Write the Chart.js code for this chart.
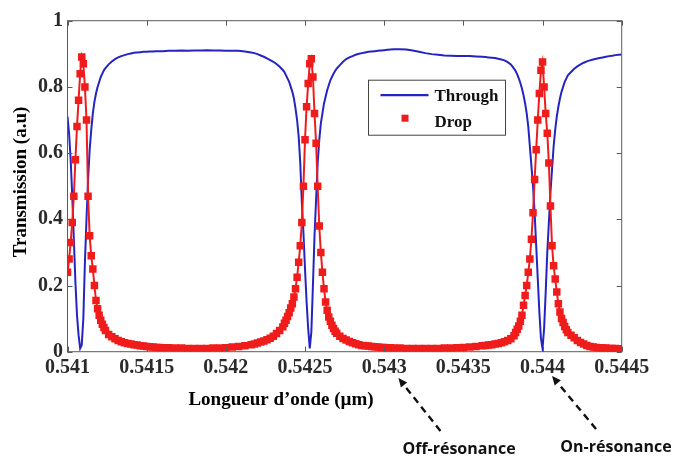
<!DOCTYPE html>
<html>
<head>
<meta charset="utf-8">
<script src="https://cdn.jsdelivr.net/npm/chart.js@4.4.1/dist/chart.umd.min.js"></script>
<style>
html,body{margin:0;padding:0;background:#fff;}
canvas{display:block;}
</style>
</head>
<body>
<canvas id="c" width="675" height="457"></canvas>
<script>
// ---------------- DATA ----------------
const wavelength = [
0.54100,0.54101,0.54102,0.54103,0.54104,0.54105,0.54106,0.54107,0.54108,0.54109,
0.54110,0.54111,0.54112,0.54113,0.54114,0.54115,0.54116,0.54117,0.54118,0.54119,
0.54120,0.54121,0.54122,0.54123,0.54124,
0.54126,0.54128,0.54130,0.54132,0.54134,0.54136,0.54138,0.54140,0.54142,0.54144,
0.54146,0.54148,0.54150,0.54152,0.54154,0.54156,0.54158,0.54160,
0.54164,0.54168,0.54172,0.54176,0.54180,0.54184,0.54188,0.54192,0.54196,0.54200,
0.54204,0.54208,0.54212,0.54216,
0.54218,0.54220,0.54222,0.54224,0.54226,0.54228,0.54230,0.54232,0.54234,0.54236,
0.54237,0.54238,0.54239,0.54240,0.54241,0.54242,0.54243,0.54244,0.54245,0.54246,
0.54247,0.54248,0.54249,0.54250,0.54251,0.54252,0.54253,0.54254,0.54255,0.54256,
0.54257,0.54258,0.54259,0.54260,0.54261,0.54262,0.54263,0.54264,0.54265,0.54266,
0.54267,0.54268,0.54269,0.54270,
0.54272,0.54274,0.54276,0.54278,0.54280,0.54282,0.54284,0.54286,0.54288,0.54290,
0.54292,0.54294,0.54296,0.54298,0.54300,0.54302,0.54304,0.54306,
0.54310,0.54314,0.54318,0.54322,0.54326,0.54330,0.54334,0.54338,0.54342,0.54346,
0.54350,0.54354,0.54358,0.54362,
0.54364,0.54366,0.54368,0.54370,0.54372,0.54374,0.54376,0.54378,0.54380,0.54382,
0.54383,0.54384,0.54385,0.54386,0.54387,0.54388,0.54389,0.54390,0.54391,0.54392,
0.54393,0.54394,0.54395,0.54396,0.54397,0.54398,0.54399,0.54400,0.54401,0.54402,
0.54403,0.54404,0.54405,0.54406,0.54407,0.54408,0.54409,0.54410,0.54411,0.54412,
0.54413,0.54414,0.54415,0.54416,
0.54418,0.54420,0.54422,0.54424,0.54426,0.54428,0.54430,0.54432,0.54434,0.54436,
0.54438,0.54440,0.54442,0.54444,0.54446,0.54448,0.54450
];

const through = [
0.71,0.66,0.58,0.47,0.34,0.21,0.11,0.05,0.01,0.02,
0.10,0.27,0.40,0.52,0.61,0.67,0.72,0.755,0.78,0.80,
0.815,0.83,0.84,0.85,0.857,
0.868,0.877,0.884,0.889,0.893,0.896,0.899,0.901,0.903,0.904,
0.905,0.906,0.906,0.907,0.907,0.908,0.908,0.908,
0.909,0.909,0.910,0.909,0.910,0.910,0.911,0.910,0.910,0.909,
0.909,0.909,0.907,0.904,
0.902,0.899,0.895,0.891,0.886,0.881,0.876,0.869,0.861,0.851,
0.845,0.835,0.825,0.815,0.80,0.785,0.765,0.735,0.70,0.65,
0.57,0.45,0.36,0.25,0.15,0.07,0.01,0.06,0.20,0.35,
0.46,0.57,0.64,0.69,0.72,0.75,0.77,0.79,0.805,0.82,
0.83,0.84,0.848,0.855,
0.866,0.876,0.884,0.889,0.893,0.897,0.900,0.902,0.904,0.906,
0.907,0.908,0.909,0.910,0.911,0.912,0.913,0.914,
0.914,0.913,0.910,0.906,0.902,0.899,0.897,0.895,0.894,0.893,
0.893,0.893,0.892,0.891,
0.890,0.889,0.888,0.887,0.885,0.883,0.880,0.875,0.868,0.855,
0.848,0.838,0.826,0.812,0.795,0.775,0.75,0.72,0.68,0.62,
0.56,0.50,0.42,0.32,0.22,0.12,0.04,0.01,0.07,0.18,
0.30,0.39,0.48,0.55,0.62,0.67,0.71,0.74,0.765,0.785,
0.80,0.815,0.825,0.835,
0.845,0.855,0.862,0.868,0.873,0.877,0.880,0.883,0.885,0.887,
0.889,0.891,0.893,0.894,0.896,0.897,0.898
];

const drop = [
0.24,0.28,0.33,0.39,0.47,0.58,0.68,0.76,0.84,0.89,
0.87,0.80,0.70,0.47,0.35,0.29,0.25,0.20,0.155,0.13,
0.11,0.095,0.083,0.073,0.064,
0.052,0.045,0.039,0.034,0.030,0.027,0.025,0.023,0.021,0.020,
0.018,0.017,0.016,0.015,0.014,0.013,0.013,0.012,
0.012,0.011,0.011,0.010,0.010,0.010,0.010,0.011,0.011,0.012,
0.014,0.016,0.018,0.021,
0.023,0.026,0.029,0.032,0.036,0.041,0.047,0.055,0.064,0.075,
0.086,0.095,0.106,0.118,0.132,0.145,0.165,0.19,0.225,0.27,
0.32,0.39,0.50,0.64,0.74,0.81,0.87,0.885,0.83,0.72,
0.63,0.50,0.38,0.30,0.24,0.19,0.15,0.125,0.105,0.092,
0.080,0.070,0.062,0.056,
0.047,0.040,0.035,0.031,0.027,0.024,0.021,0.019,0.018,0.017,
0.016,0.015,0.014,0.013,0.013,0.012,0.012,0.011,
0.011,0.010,0.010,0.010,0.010,0.010,0.010,0.011,0.011,0.012,
0.013,0.014,0.016,0.018,
0.019,0.020,0.021,0.023,0.025,0.027,0.030,0.034,0.039,0.048,
0.058,0.068,0.078,0.092,0.11,0.14,0.17,0.20,0.24,0.28,
0.34,0.42,0.52,0.61,0.70,0.78,0.85,0.875,0.80,0.72,
0.66,0.57,0.44,0.32,0.26,0.22,0.18,0.145,0.12,0.10,
0.088,0.076,0.066,0.058,
0.050,0.042,0.034,0.028,0.023,0.019,0.016,0.014,0.013,0.012,
0.011,0.011,0.010,0.010,0.010,0.009,0.009
];

const xTickLabels = ['0.541','0.5415','0.542','0.5425','0.543','0.5435','0.544','0.5445'];
const yTickLabels = ['0','0.2','0.4','0.6','0.8','1'];
const seriesNames = ['Through','Drop'];
const xTitle = 'Longueur d\u2019onde (\u00b5m)';
const yTitle = 'Transmission (a.u)';
const offResonanceLabel = 'Off-r\u00e9sonance';
const onResonanceLabel = 'On-r\u00e9sonance';
const offResonanceX = 0.54309;
const onResonanceX = 0.54406;

// ---------------- STYLE ----------------
const BLUE = '#2424c2';
const RED = '#f01c1c';
const SERIF = '"Liberation Serif", "Times New Roman", serif';

const throughPts = wavelength.map((x, i) => ({x: x, y: through[i]}));
const dropPts = wavelength.map((x, i) => ({x: x, y: drop[i]}));

const decor = {
  id: 'decor',
  afterDatasetsDraw(chart) {
    const ctx = chart.ctx;
    const a = chart.chartArea;
    const xs = chart.scales.x, ys = chart.scales.y;
    ctx.save();
    // frame
    ctx.strokeStyle = '#5a5a5a';
    ctx.lineWidth = 1;
    ctx.strokeRect(a.left, a.top, a.right - a.left, a.bottom - a.top);
    // inward ticks
    ctx.beginPath();
    xs.ticks.forEach(t => {
      const px = Math.round(xs.getPixelForValue(t.value)) + 0.5;
      ctx.moveTo(px, a.top); ctx.lineTo(px, a.top + 5);
      ctx.moveTo(px, a.bottom); ctx.lineTo(px, a.bottom - 5);
    });
    ys.ticks.forEach(t => {
      const py = Math.round(ys.getPixelForValue(t.value)) + 0.5;
      ctx.moveTo(a.left, py); ctx.lineTo(a.left + 5, py);
      ctx.moveTo(a.right, py); ctx.lineTo(a.right - 5, py);
    });
    ctx.stroke();

    // legend
    const lx = a.left + 301, ly = a.top + 59.5;
    ctx.fillStyle = '#fff';
    ctx.fillRect(lx, ly, 137, 55);
    ctx.strokeStyle = '#444';
    ctx.strokeRect(lx, ly, 137, 55);
    ctx.strokeStyle = BLUE;
    ctx.lineWidth = 2.2;
    ctx.beginPath();
    ctx.moveTo(lx + 12, ly + 15); ctx.lineTo(lx + 60, ly + 15);
    ctx.stroke();
    ctx.fillStyle = RED;
    ctx.fillRect(lx + 33, ly + 34.5, 7, 7);
    ctx.fillStyle = '#111';
    ctx.font = 'bold 17px ' + SERIF;
    ctx.textAlign = 'left';
    ctx.textBaseline = 'middle';
    ctx.fillText(seriesNames[0], lx + 66, ly + 16);
    ctx.fillText(seriesNames[1], lx + 66, ly + 42);

    // axis titles
    ctx.fillStyle = '#000';
    ctx.font = 'bold 19px ' + SERIF;
    ctx.textAlign = 'center';
    ctx.textBaseline = 'middle';
    ctx.fillText(xTitle, 281, 400);
    ctx.save();
    ctx.translate(21, 182);
    ctx.rotate(-Math.PI / 2);
    ctx.fillText(yTitle, 0, 0);
    ctx.restore();

    // annotation arrows
    function arrow(hx, hy, tx, ty) {
      const ang = Math.atan2(hy - ty, hx - tx);
      const back = 9;
      const bx = hx - back * Math.cos(ang), by = hy - back * Math.sin(ang);
      ctx.strokeStyle = '#111';
      ctx.lineWidth = 2.4;
      ctx.setLineDash([7, 5]);
      ctx.beginPath();
      ctx.moveTo(tx, ty); ctx.lineTo(bx, by);
      ctx.stroke();
      ctx.setLineDash([]);
      ctx.fillStyle = '#111';
      ctx.beginPath();
      ctx.moveTo(hx, hy);
      ctx.lineTo(bx + 4 * Math.sin(ang), by - 4 * Math.cos(ang));
      ctx.lineTo(bx - 4 * Math.sin(ang), by + 4 * Math.cos(ang));
      ctx.closePath();
      ctx.fill();
    }
    const offX = xs.getPixelForValue(offResonanceX);
    const onX = xs.getPixelForValue(onResonanceX);
    arrow(offX, 378, offX + 42, 431);
    arrow(onX, 376, onX + 44, 429);
    ctx.font = 'bold 16px "Open Sans", "Noto Sans", sans-serif';
    ctx.fillStyle = '#111';
    ctx.textAlign = 'center';
    ctx.fillText(offResonanceLabel, 459, 449);
    ctx.fillText(onResonanceLabel, 616, 447);
    ctx.restore();
  }
};

new Chart(document.getElementById('c'), {
  type: 'line',
  data: {
    datasets: [
      {
        label: seriesNames[0],
        data: throughPts,
        borderColor: BLUE,
        borderWidth: 2,
        pointRadius: 0,
        tension: 0,
        fill: false,
        order: 1
      },
      {
        label: seriesNames[1],
        data: dropPts,
        borderColor: RED,
        borderWidth: 2,
        pointStyle: 'rect',
        pointRadius: 5.3,
        pointBackgroundColor: RED,
        pointBorderWidth: 0,
        tension: 0,
        fill: false,
        order: 0
      }
    ]
  },
  options: {
    responsive: false,
    animation: false,
    devicePixelRatio: 1,
    events: [],
    layout: { padding: { left: 0, right: 53.3, top: 20.7, bottom: 0 } },
    plugins: { legend: { display: false }, tooltip: { enabled: false } },
    scales: {
      x: {
        type: 'linear',
        min: 0.541,
        max: 0.5445,
        grid: { display: false, drawTicks: false },
        border: { display: false },
        ticks: {
          stepSize: 0.0005,
          padding: 4,
          color: '#2a2a2a',
          font: { family: SERIF, weight: 'bold', size: 20 },
          maxRotation: 0,
          autoSkip: false,
          callback: (v, i) => xTickLabels[i]
        },
        afterFit: s => { s.height = 105.3; }
      },
      y: {
        min: 0,
        max: 1,
        grid: { display: false, drawTicks: false },
        border: { display: false },
        ticks: {
          stepSize: 0.2,
          padding: 4.5,
          color: '#2a2a2a',
          font: { family: SERIF, weight: 'bold', size: 20 },
          callback: (v, i) => yTickLabels[i]
        },
        afterFit: s => { s.width = 67.5; }
      }
    }
  },
  plugins: [decor]
});
</script>
</body>
</html>
